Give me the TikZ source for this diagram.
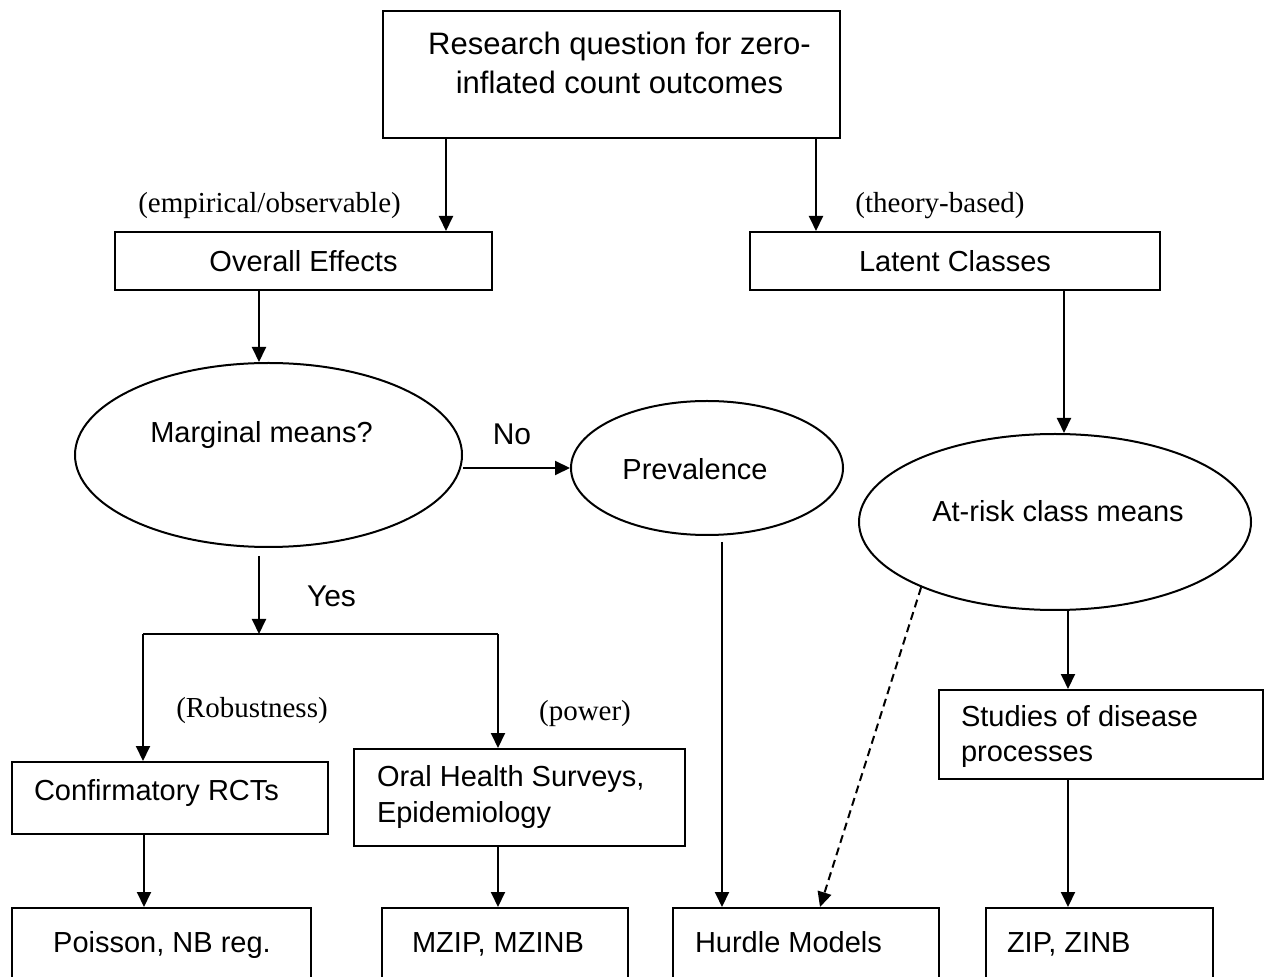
\documentclass[tikz,border=0pt]{standalone}
\usepackage{fontspec}
\setmainfont{Liberation Serif}
\setsansfont{Liberation Sans}
\usetikzlibrary{arrows.meta,shapes.geometric}
\tikzset{
  shapebox/.style={draw, rectangle, inner sep=0pt, font=\sffamily\fontsize{14.5}{17.5}\selectfont},
  oval/.style={draw, ellipse, inner sep=0pt},
  arr/.style={-{Triangle[length=7.5pt,width=7pt]}},
  sanslbl/.style={font=\sffamily\fontsize{14.5}{17.5}\selectfont, inner sep=0pt},
  yesno/.style={font=\sffamily\fontsize{15}{18}\selectfont, inner sep=0pt},
  seriflbl/.style={font=\rmfamily\fontsize{14.5}{17}\selectfont, inner sep=0pt},
  dashedarr/.style={arr, dash pattern=on 4pt off 2.5pt}
}
\begin{document}
\begin{tikzpicture}[x=0.5pt,y=-0.5pt, line width=1pt]
\fill[white] (0,0) rectangle (1268,977);
\clip (0,0) rectangle (1268,977);

% shapes
\node[shapebox, minimum width=228.5pt, minimum height=63.5pt] (top) at (611.5,74.5) {};
\node[shapebox, minimum width=188.5pt, minimum height=29pt] (oe) at (303.5,261) {Overall Effects};
\node[shapebox, minimum width=205pt, minimum height=29pt] (lc) at (955,261) {Latent Classes};
\node[oval, minimum width=193.5pt, minimum height=92pt] (mm) at (268.5,455) {};
\node[oval, minimum width=136pt, minimum height=67pt] (prev) at (707,468) {};
\node[oval, minimum width=196pt, minimum height=88pt] (ar) at (1055,522) {};
\node[shapebox, minimum width=158pt, minimum height=36pt] (conf) at (170,798) {};
\node[shapebox, minimum width=165.5pt, minimum height=48.5pt] (oral) at (519.5,797.5) {};
\node[shapebox, minimum width=162pt, minimum height=44.5pt] (stud) at (1101,734.5) {};
\node[shapebox, minimum width=149.5pt, minimum height=55pt] (pois) at (161.5,963) {};
\node[shapebox, minimum width=123pt, minimum height=55pt] (mzip) at (505,963) {};
\node[shapebox, minimum width=133pt, minimum height=55pt] (hurd) at (806,963) {};
\node[shapebox, minimum width=113.5pt, minimum height=55pt] (zip) at (1099.5,963) {};

% texts
\node[sanslbl, font=\sffamily\fontsize{15.5}{19.5}\selectfont, align=center] (toptxt) at (619.5,63) {Research question for zero-\\inflated count outcomes};
\node[seriflbl, anchor=base] (emp) at (269.5,213) {(empirical/observable)};
\node[seriflbl, anchor=base] (theo) at (940,213) {(theory-based)};
\node[sanslbl, anchor=base] (mmtxt) at (261.5,443) {Marginal means?};
\node[yesno, anchor=base] (no) at (512,445) {No};
\node[sanslbl, anchor=base] (prevtxt) at (695,480) {Prevalence};
\node[sanslbl, anchor=base] (artxt) at (1058,522) {At-risk class means};
\node[yesno, anchor=base] (yes) at (331.5,607) {Yes};
\node[seriflbl, anchor=base] (rob) at (252,717) {(Robustness)};
\node[seriflbl, anchor=base] (pow) at (585,720) {(power)};
\node[sanslbl, anchor=base west] (conftxt) at (33,800) {Confirmatory RCTs};
\node[sanslbl, anchor=west, align=left] (oraltxt) at (376,797) {Oral Health Surveys,\\Epidemiology};
\node[sanslbl, anchor=west, align=left] (studtxt) at (960,737) {Studies of disease\\processes};
\node[sanslbl, anchor=base] (poistxt) at (162,952) {Poisson, NB reg.};
\node[sanslbl, anchor=base] (mziptxt) at (498,952) {MZIP, MZINB};
\node[sanslbl, anchor=base west] (hurdtxt) at (694,952) {Hurdle Models};
\node[sanslbl, anchor=base west] (ziptxt) at (1006,952) {ZIP, ZINB};

% helper x positions
\coordinate (xA) at (446,0);
\coordinate (xB) at (816,0);
\coordinate (xC) at (259,0);
\coordinate (xD) at (1064,0);
\coordinate (xE) at (144,0);
\coordinate (xF) at (498,0);
\coordinate (xG) at (722,0);
\coordinate (xH) at (1068,0);
\coordinate (xI) at (820,0);
\coordinate (jn) at (259,634);
\coordinate (jl) at (143,634);
\coordinate (jr) at (498,634);

% connectors
\draw[arr] (top.south -| xA) -- (oe.north -| xA);
\draw[arr] (top.south -| xB) -- (lc.north -| xB);
\draw[arr] (oe.south -| xC) -- (mm.north -| xC);
\draw[arr] (lc.south -| xD) -- (ar.north -| xD);
\draw[arr] (mm.east |- prev.west) -- (prev.west);
\draw[arr, shorten <=4pt] (mm.south -| xC) -- (jn);
\draw (jl) -- (jr);
\draw[arr] (jl) -- (conf.north -| jl);
\draw[arr] (jr) -- (oral.north -| jr);
\draw[arr] (conf.south -| xE) -- (pois.north -| xE);
\draw[arr] (oral.south -| xF) -- (mzip.north -| xF);
\draw[arr, shorten <=3pt] (prev.south -| xG) -- (hurd.north -| xG);
\draw[dashedarr] (ar.206) -- (hurd.north -| xI);
\draw[arr] (ar.south -| xH) -- (stud.north -| xH);
\draw[arr] (stud.south -| xH) -- (zip.north -| xH);
\end{tikzpicture}
\end{document}
